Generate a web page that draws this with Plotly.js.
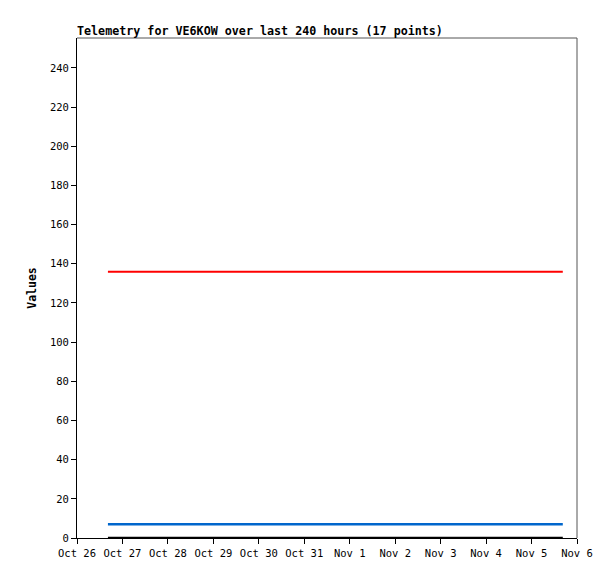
<!DOCTYPE html>
<html>
<head>
<meta charset="utf-8">
<script src="https://cdn.plot.ly/plotly-3.0.1.min.js"></script>
<style>html,body{margin:0;padding:0;background:#fff;}#chart{width:615px;height:579px;}</style>
</head>
<body>
<div id="chart"></div>
<script>
var times = [
  "2023-10-26 16:20", "2023-10-27 07:30", "2023-10-27 22:40", "2023-10-28 13:50",
  "2023-10-29 05:00", "2023-10-29 20:10", "2023-10-30 11:20", "2023-10-31 02:30",
  "2023-10-31 17:40", "2023-11-01 08:50", "2023-11-02 00:00", "2023-11-02 15:10",
  "2023-11-03 06:20", "2023-11-03 21:30", "2023-11-04 12:40", "2023-11-05 03:50",
  "2023-11-05 16:30"
];
var redValues   = [136,136,136,136,136,136,136,136,136,136,136,136,136,136,136,136,136];
var blueValues  = [7,7,7,7,7,7,7,7,7,7,7,7,7,7,7,7,7];
var blackValues = [0,0,0,0,0,0,0,0,0,0,0,0,0,0,0,0,0];
var tickDates = ["2023-10-26","2023-10-27","2023-10-28","2023-10-29","2023-10-30","2023-10-31",
                 "2023-11-01","2023-11-02","2023-11-03","2023-11-04","2023-11-05","2023-11-06"];
var tickLabels = ["Oct 26","Oct 27","Oct 28","Oct 29","Oct 30","Oct 31",
                  "Nov 1","Nov 2","Nov 3","Nov 4","Nov 5","Nov 6"];
var yTicks = [0,20,40,60,80,100,120,140,160,180,200,220,240];

var mono = "DejaVu Sans Mono, Liberation Mono, monospace";
var traces = [
  {x: times, y: redValues, type: "scatter", mode: "lines", line: {color: "#ff0000", width: 2}, hoverinfo: "none"},
  {x: times, y: blueValues, type: "scatter", mode: "lines", line: {color: "#0066cc", width: 2.5}, hoverinfo: "none"},
  {x: times, y: blackValues, type: "scatter", mode: "lines", line: {color: "#000000", width: 2.5}, hoverinfo: "none", cliponaxis: false}
];
var layout = {
  width: 615, height: 579,
  margin: {l: 77, r: 38, t: 38, b: 41},
  paper_bgcolor: "#ffffff", plot_bgcolor: "#ffffff",
  showlegend: false,
  title: {text: "<b>Telemetry for VE6KOW over last 240 hours (17 points)</b>",
          font: {family: mono, size: 11.7, color: "#000"},
          x: 0, xanchor: "left", xref: "paper", y: 1 - 35/579, yanchor: "bottom"},
  xaxis: {
    type: "date", range: ["2023-10-26 00:00", "2023-11-06 00:00"],
    tickvals: tickDates, ticktext: tickLabels,
    ticks: "outside", ticklen: 5, tickcolor: "#000", tickwidth: 1,
    showline: true, linecolor: "#000", linewidth: 1,
    showgrid: false, zeroline: false,
    tickfont: {family: mono, size: 10.5, color: "#000"}
  },
  yaxis: {
    range: [0, 255.3], tickvals: yTicks,
    ticks: "outside", ticklen: 5, tickcolor: "#000", tickwidth: 1,
    showline: true, linecolor: "#000", linewidth: 1,
    showgrid: false, zeroline: false,
    tickfont: {family: mono, size: 10.5, color: "#000"},
    title: {text: "<b>Values</b>", font: {family: mono, size: 11.5, color: "#000"}, standoff: 10}
  },
  shapes: [
    {type: "line", xref: "paper", yref: "paper", x0: 0, x1: 1, y0: 1, y1: 1, line: {color: "#555", width: 1}},
    {type: "line", xref: "paper", yref: "paper", x0: 1, x1: 1, y0: 0, y1: 1, line: {color: "#555", width: 1}}
  ]
};
Plotly.newPlot("chart", traces, layout, {staticPlot: true, displayModeBar: false});
</script>
</body>
</html>
